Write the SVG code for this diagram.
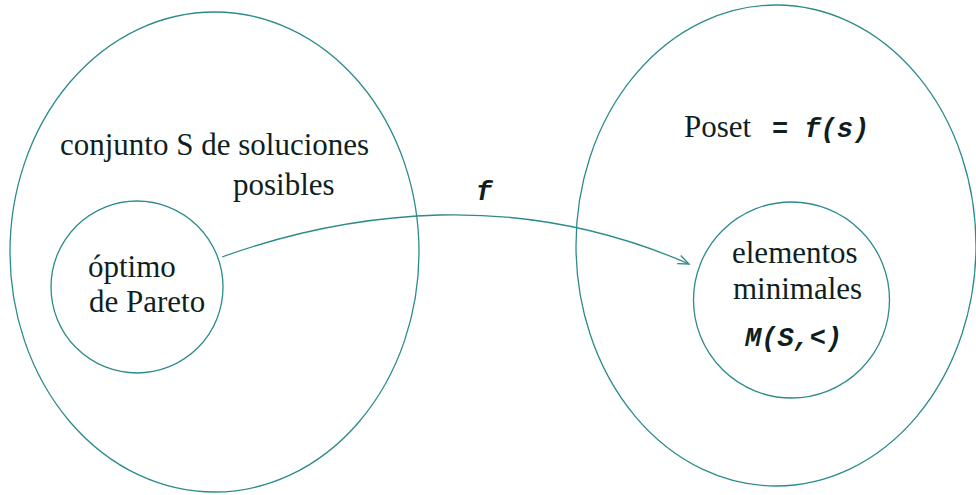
<svg xmlns="http://www.w3.org/2000/svg" width="976" height="495" viewBox="0 0 976 495">
<style>
.ln{fill:none;stroke:#2e8b8b;stroke-width:1.3}
.t{font-family:"Liberation Serif","Times New Roman",serif;font-size:31px;fill:#0f1f1f}
.m{font-family:"Liberation Mono","Courier New",monospace;font-size:27px;font-weight:bold;font-style:italic;fill:#0f1f1f}
</style>
<defs>
<marker id="ah" markerUnits="userSpaceOnUse" markerWidth="16" markerHeight="12" refX="12" refY="6" orient="auto" viewBox="0 0 16 12">
<path d="M1,1.5 L12,6 L1,10.5" fill="none" stroke="#2e8b8b" stroke-width="1.3"/>
</marker>
</defs>
<rect width="976" height="495" fill="#ffffff"/>
<g id="conjunto">
<ellipse class="ln" cx="214.5" cy="252" rx="204.5" ry="240"/>
<text class="t" x="60" y="155">conjunto S de soluciones</text>
<text class="t" x="233" y="195">posibles</text>
</g>
<g id="pareto">
<circle class="ln" cx="137" cy="287" r="86"/>
<text class="t" x="88" y="277">óptimo</text>
<text class="t" x="89" y="312">de Pareto</text>
</g>
<g id="poset">
<ellipse class="ln" cx="776" cy="245.5" rx="200" ry="240.5"/>
<text class="t" x="684" y="137">Poset</text>
<text class="m" x="772" y="137">= f(s)</text>
</g>
<g id="minimales">
<circle class="ln" cx="791.5" cy="300" r="98"/>
<text class="t" x="732" y="263">elementos</text>
<text class="t" x="733" y="299">minimales</text>
<text class="m" x="745" y="346">M(S,&lt;)</text>
</g>
<g id="connectors">
<path class="ln" d="M222,257 Q330,218 440,215 Q570,212 689,264" marker-end="url(#ah)"/>
<text class="m" x="476" y="200">f</text>
</g>
</svg>
